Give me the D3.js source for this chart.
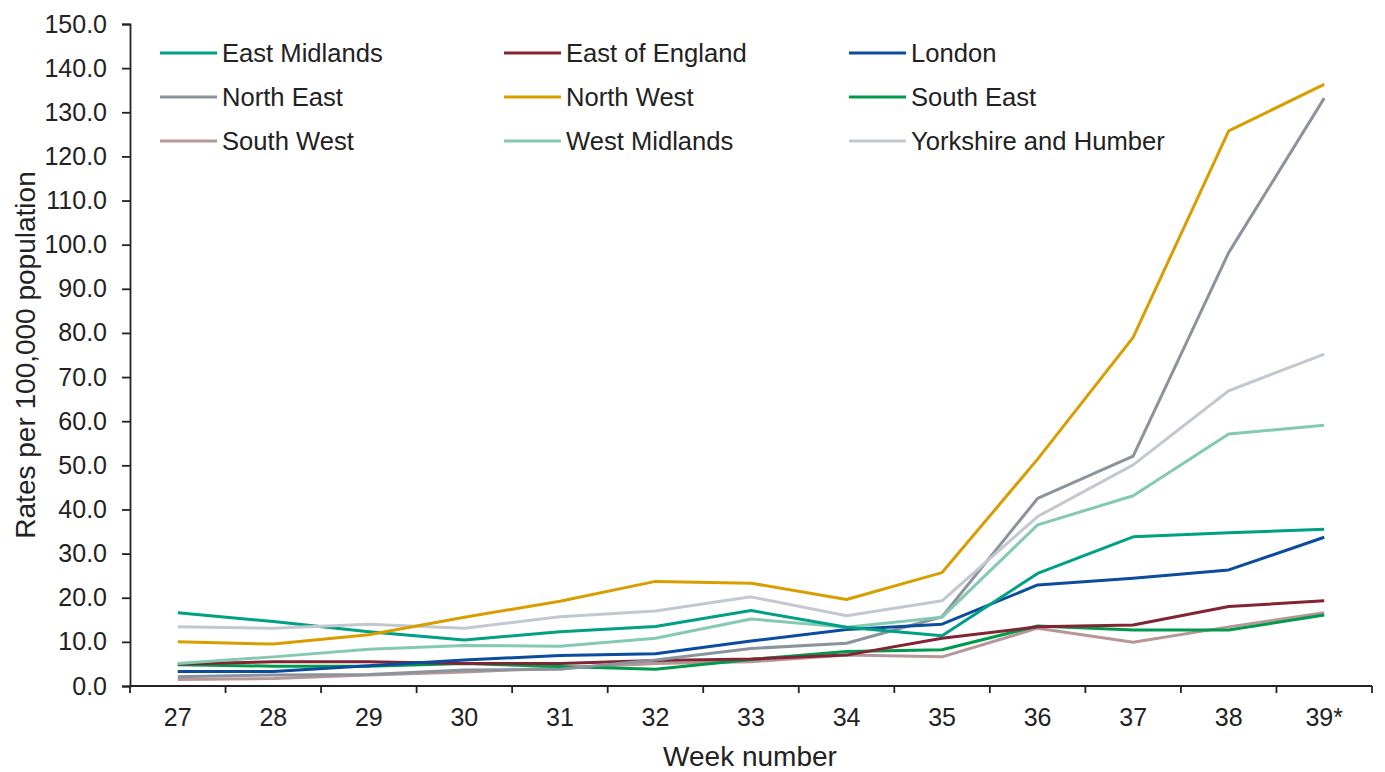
<!DOCTYPE html>
<html>
<head>
<meta charset="utf-8">
<script src="https://cdn.jsdelivr.net/npm/d3@7"></script>
<style>
  html, body { margin: 0; padding: 0; background: #fff; }
  svg { display: block; font-family: "Liberation Sans", Arial, sans-serif; }
</style>
</head>
<body>
<svg id="chart" width="1385" height="772"></svg>
<script>
const weeks = ["27","28","29","30","31","32","33","34","35","36","37","38","39*"];
const seriesNames = ["East Midlands","East of England","London","North East","North West","South East","South West","West Midlands","Yorkshire and Humber"];
const eastMidlands   = [16.6,14.6,12.3,10.4,12.3,13.5,17.1,13.3,11.4,25.5,33.8,34.7,35.5];
const eastOfEngland  = [5.0,5.5,5.5,5.1,5.1,5.8,6.1,7.0,10.8,13.4,13.8,18.0,19.3];
const london         = [3.3,3.3,4.6,5.9,6.9,7.3,10.2,12.8,14.0,22.9,24.4,26.3,33.7];
const northEast      = [2.1,2.5,2.6,3.6,3.8,5.9,8.5,9.7,15.7,42.5,52.1,98.2,133.2];
const northWest      = [10.0,9.5,11.6,15.6,19.2,23.7,23.3,19.6,25.7,51.4,79.0,125.8,136.3];
const southEast      = [4.8,4.5,4.5,5.1,4.4,3.8,6.0,7.8,8.2,13.6,12.7,12.7,16.1];
const southWest      = [1.5,1.7,2.5,3.2,4.1,5.1,5.5,7.0,6.6,13.1,9.9,13.4,16.6];
const westMidlands   = [5.1,6.6,8.3,9.2,9.0,10.8,15.2,13.3,15.6,36.5,43.1,57.1,59.1];
const yorkshire      = [13.4,13.1,14.0,13.1,15.7,17.0,20.2,15.9,19.3,38.4,50.1,66.9,75.2];
const yTicks = [0,10,20,30,40,50,60,70,80,90,100,110,120,130,140,150];

const seriesValues = [eastMidlands,eastOfEngland,london,northEast,northWest,southEast,southWest,westMidlands,yorkshire];
const colors = ["#00a084","#822433","#0b4c9c","#8b949c","#d89e00","#009a4b","#b89698","#84c9b2","#c3c8d0"];

const svg = d3.select("#chart");
const plotLeft = 130, plotRight = 1372, plotTop = 24, plotBottom = 686;

const x = d3.scaleBand().domain(weeks).range([plotLeft, plotRight]).padding(0);
const y = d3.scaleLinear().domain([0,150]).range([plotBottom, plotTop]);

// Y axis
const yAxis = svg.append("g").attr("transform", `translate(${plotLeft},0)`)
  .call(d3.axisLeft(y).tickValues(yTicks).tickFormat(d3.format(".1f")).tickSizeOuter(0).tickSize(8));
yAxis.select(".domain").attr("stroke", "#222").attr("stroke-width", 1.8);
yAxis.selectAll(".tick line").attr("stroke", "#222").attr("stroke-width", 1.8);
yAxis.selectAll(".tick text").attr("font-size", 25).attr("fill", "#222").attr("x", -23)
  .attr("font-family", "Liberation Sans, Arial, sans-serif");

// X axis with ticks between categories
const xg = svg.append("g").attr("transform", `translate(0,${plotBottom})`);
xg.append("line").attr("x1", plotLeft).attr("x2", plotRight).attr("y1", 0).attr("y2", 0)
  .attr("stroke", "#222").attr("stroke-width", 1.8);
const bounds = weeks.map(w => x(w)).concat([x(weeks[weeks.length-1]) + x.bandwidth()]);
xg.selectAll("line.tk").data(bounds).enter().append("line").attr("class","tk")
  .attr("x1", d => d).attr("x2", d => d).attr("y1", 0).attr("y2", 7)
  .attr("stroke", "#222").attr("stroke-width", 1.8);
xg.selectAll("text").data(weeks).enter().append("text")
  .attr("x", d => x(d) + x.bandwidth()/2)
  .attr("y", 40)
  .attr("text-anchor", "middle")
  .attr("font-size", 25).attr("fill", "#222")
  .text(d => d);

// Axis titles
svg.append("text").attr("x", 750).attr("y", 766).attr("text-anchor","middle")
  .attr("font-size", 28).attr("fill","#222").text("Week number");
svg.append("text").attr("transform", "translate(35,355) rotate(-90)").attr("text-anchor","middle")
  .attr("font-size", 28).attr("fill","#222").text("Rates per 100,000 population");

// Lines
const line = d3.line().x((d,i) => x(weeks[i]) + x.bandwidth()/2).y(d => y(d));
const drawOrder = [6,5,1,3,2,7,0,8,4];
drawOrder.forEach(k => {
  svg.append("path").datum(seriesValues[k])
    .attr("fill","none").attr("stroke", colors[k]).attr("stroke-width", 3)
    .attr("stroke-linejoin","round").attr("d", line);
});

// Legend
const legCols = [160, 504, 849];
const legRows = [53, 97, 141];
seriesNames.forEach((name, i) => {
  const cx = legCols[i % 3], cy = legRows[Math.floor(i / 3)];
  svg.append("line").attr("x1", cx).attr("x2", cx + 57).attr("y1", cy).attr("y2", cy)
    .attr("stroke", colors[i]).attr("stroke-width", 3);
  svg.append("text").attr("x", cx + 62).attr("y", cy + 9).attr("font-size", 25.6)
    .attr("fill", "#222").text(name);
});
</script>
</body>
</html>
